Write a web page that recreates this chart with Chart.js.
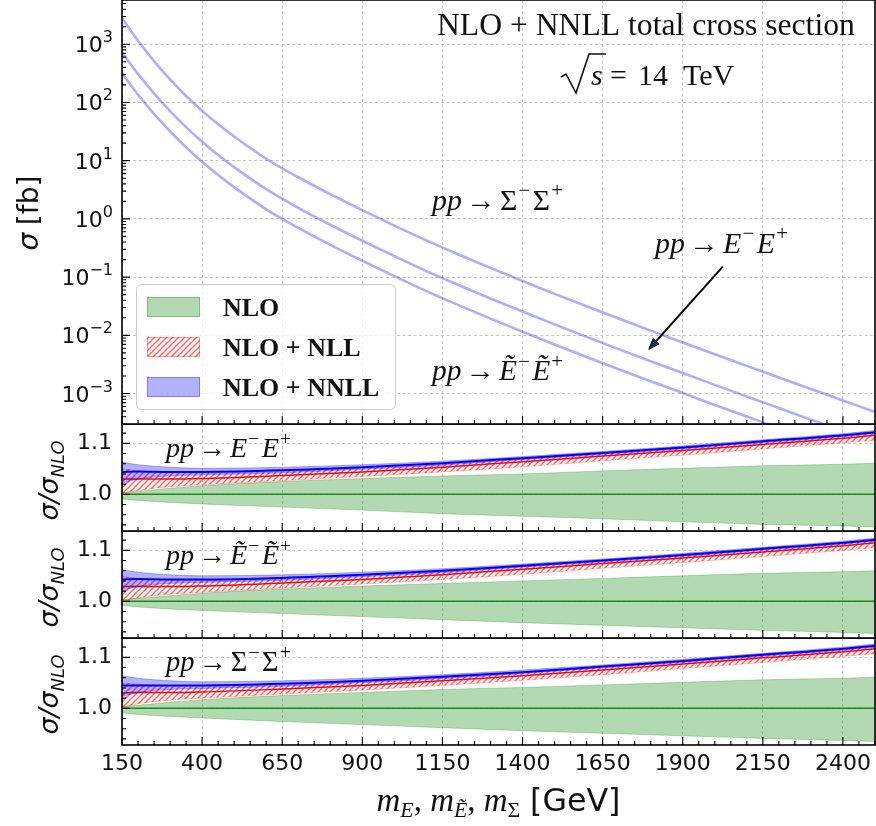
<!DOCTYPE html>
<html>
<head>
<meta charset="utf-8">
<script src="https://cdn.jsdelivr.net/npm/chart.js@4.4.1/dist/chart.umd.min.js"></script>
<style>
  html, body { margin: 0; padding: 0; background: #fff; }
  #fig { position: relative; width: 876px; height: 826px; overflow: hidden; }
  #fig canvas { position: absolute; left: 0; }
</style>
</head>
<body>
<div id="fig">
  <canvas id="main" width="876" height="425" style="top:0px"></canvas>
  <canvas id="rE" width="876" height="108" style="top:424px"></canvas>
  <canvas id="rEt" width="876" height="108" style="top:531px"></canvas>
  <canvas id="rS" width="876" height="188" style="top:638px"></canvas>
</div>
<script>
// ---- data ----
const massMain = [150, 200, 250, 300, 350, 400, 450, 500, 600, 700, 800, 900, 1000, 1100, 1200, 1300, 1400, 1500, 1600, 1700, 1800, 1900, 2000, 2100, 2200, 2300, 2400, 2500];
// NLO+NNLL total cross sections [fb]
const xsecSigma = [2818, 1148, 513, 248, 129, 71.6, 42.2, 26.0, 10.8, 5.19, 2.66, 1.41, 0.767, 0.427, 0.245, 0.144, 0.0857, 0.0516, 0.0315, 0.0194, 0.01205, 0.00753, 0.00473, 0.00299, 0.00189, 0.00120, 0.000760, 0.000484];
const xsecE = [724, 309, 143, 70.8, 37.6, 21.1, 12.5, 7.76, 3.24, 1.55, 0.794, 0.422, 0.229, 0.127, 0.0733, 0.0430, 0.0256, 0.0154, 0.00940, 0.00579, 0.00360, 0.00225, 0.00141, 0.000891, 0.000564, 0.000357, 0.000227, 0.000145];
const xsecEt = [316, 136, 63.8, 32.0, 17.0, 9.55, 5.66, 3.51, 1.46, 0.700, 0.359, 0.191, 0.104, 0.0575, 0.0331, 0.0194, 0.01156, 0.00697, 0.00425, 0.00262, 0.00163, 0.00102, 0.000638, 0.000403, 0.000255, 0.000161, 0.000103, 0.0000653];

// ratio sigma / sigma_NLO
const massRatio = [150, 200, 300, 400, 650, 900, 1150, 1400, 1650, 1900, 2150, 2400, 2500];
const nloCentral = [1, 1, 1, 1, 1, 1, 1, 1, 1, 1, 1, 1, 1];

const nloLoE   = [0.991, 0.988, 0.984, 0.981, 0.975, 0.969, 0.962, 0.957, 0.952, 0.946, 0.941, 0.938, 0.936];
const nloHiE   = [1.003, 1.006, 1.012, 1.017, 1.025, 1.031, 1.036, 1.040, 1.046, 1.051, 1.056, 1.059, 1.061];
const nllE     = [1.030, 1.030, 1.030, 1.031, 1.037, 1.044, 1.053, 1.064, 1.075, 1.086, 1.098, 1.110, 1.116];
const nllLoE   = [1.002, 1.008, 1.015, 1.019, 1.027, 1.035, 1.044, 1.054, 1.066, 1.077, 1.089, 1.101, 1.106];
const nllHiE   = [1.050, 1.046, 1.043, 1.042, 1.045, 1.051, 1.059, 1.069, 1.080, 1.091, 1.103, 1.115, 1.121];
const nnllE    = [1.044, 1.045, 1.044, 1.044, 1.047, 1.053, 1.061, 1.071, 1.081, 1.092, 1.104, 1.116, 1.122];
const nnllLoE  = [1.022, 1.030, 1.036, 1.038, 1.042, 1.049, 1.057, 1.068, 1.078, 1.089, 1.101, 1.113, 1.119];
const nnllHiE  = [1.063, 1.058, 1.053, 1.051, 1.053, 1.058, 1.065, 1.074, 1.084, 1.095, 1.107, 1.119, 1.125];

const nloLoEt  = [0.992, 0.989, 0.985, 0.982, 0.976, 0.970, 0.964, 0.958, 0.953, 0.948, 0.943, 0.939, 0.937];
const nloHiEt  = [1.003, 1.006, 1.011, 1.016, 1.024, 1.030, 1.035, 1.040, 1.045, 1.050, 1.055, 1.058, 1.060];
const nllEt    = [1.029, 1.029, 1.029, 1.030, 1.036, 1.043, 1.052, 1.063, 1.074, 1.085, 1.097, 1.109, 1.115];
const nllLoEt  = [1.001, 1.007, 1.014, 1.018, 1.026, 1.034, 1.043, 1.053, 1.065, 1.076, 1.088, 1.100, 1.105];
const nllHiEt  = [1.049, 1.045, 1.042, 1.041, 1.044, 1.050, 1.058, 1.068, 1.079, 1.090, 1.102, 1.114, 1.120];
const nnllEt   = [1.043, 1.044, 1.043, 1.043, 1.046, 1.052, 1.060, 1.070, 1.080, 1.091, 1.103, 1.115, 1.121];
const nnllLoEt = [1.021, 1.029, 1.035, 1.037, 1.041, 1.048, 1.056, 1.067, 1.077, 1.088, 1.100, 1.112, 1.118];
const nnllHiEt = [1.062, 1.057, 1.052, 1.050, 1.052, 1.057, 1.064, 1.073, 1.083, 1.094, 1.106, 1.118, 1.124];

const nloLoS   = [0.991, 0.988, 0.984, 0.981, 0.974, 0.968, 0.962, 0.956, 0.951, 0.946, 0.941, 0.937, 0.935];
const nloHiS   = [1.003, 1.006, 1.012, 1.017, 1.025, 1.031, 1.037, 1.041, 1.046, 1.051, 1.056, 1.059, 1.061];
const nllS     = [1.030, 1.031, 1.031, 1.032, 1.038, 1.045, 1.054, 1.064, 1.075, 1.087, 1.099, 1.111, 1.117];
const nllLoS   = [1.002, 1.009, 1.016, 1.020, 1.028, 1.036, 1.045, 1.055, 1.066, 1.078, 1.090, 1.102, 1.107];
const nllHiS   = [1.050, 1.047, 1.044, 1.043, 1.046, 1.052, 1.060, 1.070, 1.081, 1.092, 1.104, 1.116, 1.122];
const nnllS    = [1.045, 1.045, 1.045, 1.045, 1.048, 1.054, 1.062, 1.071, 1.082, 1.093, 1.105, 1.117, 1.123];
const nnllLoS  = [1.023, 1.031, 1.037, 1.039, 1.043, 1.050, 1.058, 1.068, 1.079, 1.090, 1.102, 1.114, 1.120];
const nnllHiS  = [1.064, 1.059, 1.054, 1.052, 1.054, 1.059, 1.066, 1.075, 1.085, 1.096, 1.108, 1.120, 1.126];

// ticks
const xTicks = [150, 400, 650, 900, 1150, 1400, 1650, 1900, 2150, 2400];
const mainYTicks = [1e-3, 1e-2, 1e-1, 1, 10, 100, 1000];
const ratioTicks = [1.0, 1.1];
const legendLabels = ['NLO', 'NLO + NLL', 'NLO + NNLL'];

// ---- helpers ----
const SERIF = '"Liberation Serif", "Times New Roman", "DejaVu Serif", serif';
const SANS = '"DejaVu Sans", "Liberation Sans", sans-serif';

function run(t, sz, ff, st, dy, gap) {
  return { t, sz, ff: ff || SERIF, st: st || '', dy: dy || 0, gap: gap || 0 };
}
function fontOf(r, k) {
  return (r.st ? r.st + ' ' : '') + (r.sz * k).toFixed(2) + 'px ' + r.ff;
}
function runsWidth(ctx, runs, k) {
  let w = 0;
  for (const r of runs) { ctx.font = fontOf(r, k); w += ctx.measureText(r.t).width + r.gap * k; }
  return w;
}
function drawRuns(ctx, runs, x, y, align, fitW) {
  const k = fitW ? fitW / runsWidth(ctx, runs, 1) : 1;
  const w = runsWidth(ctx, runs, k);
  let cx = align === 'center' ? x - w / 2 : align === 'right' ? x - w : x;
  ctx.textAlign = 'left';
  ctx.textBaseline = 'alphabetic';
  for (const r of runs) {
    ctx.font = fontOf(r, k);
    ctx.fillText(r.t, cx, y + r.dy * k);
    cx += ctx.measureText(r.t).width + r.gap * k;
  }
}
function procRuns(sz, P, upright) {
  const st = upright ? '' : 'italic';
  return [
    run('pp', sz, SERIF, 'italic', 0, sz * 0.14),
    run('→', sz, SERIF, '', 0, sz * 0.14),
    run(P, sz, SERIF, st, 0, sz * 0.04),
    run('−', sz * 0.7, SERIF, '', -sz * 0.42, sz * 0.08),
    run(P, sz, SERIF, st, 0, sz * 0.04),
    run('+', sz * 0.7, SERIF, '', -sz * 0.42)
  ];
}

function hatchPattern() {
  const c = document.createElement('canvas');
  c.width = 6; c.height = 6;
  const g = c.getContext('2d');
  g.strokeStyle = 'rgba(255,0,0,0.6)';
  g.lineWidth = 1.5;
  g.beginPath();
  g.moveTo(-1, 7); g.lineTo(7, -1);
  g.moveTo(-4, 4); g.lineTo(4, -4);
  g.moveTo(2, 10); g.lineTo(10, 2);
  g.stroke();
  return g.createPattern(c, 'repeat');
}
const HATCH = hatchPattern();

const gridOpts = { color: '#b8b8b8', lineWidth: 0.8, drawTicks: false };
const borderOpts = { display: false, dash: [3, 2.5] };

const xMinor = [];
for (let m = 150; m <= 2500; m += 50) xMinor.push(m);
const mainYMinor = [];
for (let e = -4; e <= 3; e++) for (let d = 2; d <= 9; d++) {
  const v = d * Math.pow(10, e);
  if (v > 3.05e-4 && v < 5750) mainYMinor.push(v);
}
const ratioMinor = [0.94, 0.96, 0.98, 1.02, 1.04, 1.06, 1.08, 1.12];

// frame, inward ticks and extra text
const framePlugin = {
  id: 'frame',
  afterDatasetsDraw(chart, args, o) {
    const { ctx, chartArea: a } = chart;
    const xs = chart.scales.x, ys = chart.scales.y;
    ctx.save();
    ctx.strokeStyle = '#000';
    ctx.lineWidth = 1.1;
    ctx.beginPath();
    for (const m of xMinor) {
      const px = xs.getPixelForValue(m);
      const len = xTicks.includes(m) ? 8 : 4;
      ctx.moveTo(px, a.bottom); ctx.lineTo(px, a.bottom - len);
    }
    for (const v of o.yMinor) {
      const py = ys.getPixelForValue(v);
      ctx.moveTo(a.left, py); ctx.lineTo(a.left + 4, py);
    }
    for (const v of o.yMajor) {
      const py = ys.getPixelForValue(v);
      ctx.moveTo(a.left, py); ctx.lineTo(a.left + 8, py);
    }
    ctx.stroke();
    ctx.lineWidth = 1.6;
    ctx.strokeRect(a.left, a.top, a.right - a.left, a.bottom - a.top);
    ctx.restore();
  },
  afterDraw(chart, args, o) {
    if (o.extra) o.extra(chart);
  }
};

function xScale(bottom) {
  return {
    type: 'linear', min: 150, max: 2500,
    afterBuildTicks: s => { s.ticks = xTicks.map(v => ({ value: v })); },
    afterFit: s => { s.height = bottom ? 81 : 0; s.paddingLeft = 0; s.paddingRight = 0; },
    ticks: {
      display: bottom, autoSkip: false, maxRotation: 0, padding: 6,
      color: '#111', font: { family: SANS, size: 22 },
      callback: v => String(v)
    },
    grid: gridOpts, border: borderOpts
  };
}
function fixY(s) { s.width = 122; s.paddingTop = 0; s.paddingBottom = 0; }

function line(data, mass, color, width, extra) {
  return Object.assign({
    data: mass.map((m, i) => ({ x: m, y: data[i] })),
    borderColor: color, borderWidth: width,
    pointRadius: 0, fill: false, cubicInterpolationMode: 'monotone'
  }, extra || {});
}

// ---- main panel ----
function drawMainText(chart) {
  const { ctx } = chart;
  const xs = chart.scales.x, ys = chart.scales.y;
  ctx.save();
  ctx.fillStyle = '#111';
  for (const v of mainYTicks) {
    const py = ys.getPixelForValue(v);
    const e = Math.round(Math.log10(v));
    drawRuns(ctx, [run('10', 22, SANS), run(String(e).replace('-', '−'), 16, SANS, '', -10)], 113, py + 8, 'right');
  }
  ctx.save();
  ctx.translate(38, 213);
  ctx.rotate(-Math.PI / 2);
  drawRuns(ctx, [run('σ', 26, SANS, 'italic', 0, 7), run('[fb]', 26, SANS)], 0, 0, 'center', 75);
  ctx.restore();

  drawRuns(ctx, [run('NLO + NNLL total cross section', 29, SERIF)], 437, 35, 'left', 418);
  // sqrt(s) = 14 TeV
  ctx.strokeStyle = '#111';
  ctx.lineWidth = 1.6;
  ctx.beginPath();
  ctx.moveTo(561, 77); ctx.lineTo(566, 74); ctx.lineTo(576, 93); ctx.lineTo(589, 54); ctx.lineTo(606, 54);
  ctx.stroke();
  drawRuns(ctx, [run('s', 30, SERIF, 'italic')], 591, 85, 'left');
  drawRuns(ctx, [run('=', 30, SERIF)], 610, 85, 'left');
  drawRuns(ctx, [run('14', 30, SERIF)], 638, 85, 'left');
  drawRuns(ctx, [run('TeV', 30, SERIF)], 683, 85, 'left');

  drawRuns(ctx, procRuns(22, 'Σ', true), 432, 210, 'left', 131);
  drawRuns(ctx, procRuns(22, 'E'), 655, 253, 'left', 133);
  drawRuns(ctx, procRuns(22, 'Ẽ'), 432, 380, 'left', 131);

  // arrow towards the E-E+ curve
  const x0 = xs.getPixelForValue(2025), y0 = ys.getPixelForValue(0.151);
  const x1 = xs.getPixelForValue(1794), y1 = ys.getPixelForValue(0.00575);
  const ang = Math.atan2(y1 - y0, x1 - x0);
  ctx.strokeStyle = '#000';
  ctx.lineWidth = 2;
  ctx.beginPath();
  ctx.moveTo(x0, y0);
  ctx.lineTo(x1 - 8 * Math.cos(ang), y1 - 8 * Math.sin(ang));
  ctx.stroke();
  ctx.fillStyle = '#10306a';
  ctx.beginPath();
  ctx.moveTo(x1, y1);
  ctx.lineTo(x1 - 11 * Math.cos(ang) + 4 * Math.sin(ang), y1 - 11 * Math.sin(ang) - 4 * Math.cos(ang));
  ctx.lineTo(x1 - 11 * Math.cos(ang) - 4 * Math.sin(ang), y1 - 11 * Math.sin(ang) + 4 * Math.cos(ang));
  ctx.closePath();
  ctx.fill();
  ctx.lineWidth = 1;
  ctx.stroke();

  // legend
  ctx.fillStyle = 'rgba(255,255,255,0.8)';
  ctx.strokeStyle = '#cccccc';
  ctx.lineWidth = 1;
  ctx.beginPath();
  ctx.roundRect(136.5, 284.5, 259, 125, 5);
  ctx.fill(); ctx.stroke();
  const patches = [
    ['rgba(0,128,0,0.3)', 'rgba(0,128,0,0.3)'],
    [HATCH, 'rgba(255,0,0,0.35)'],
    ['rgba(0,0,255,0.3)', 'rgba(0,0,255,0.3)']
  ];
  legendLabels.forEach((lab, i) => {
    const top = 297 + i * 40;
    ctx.fillStyle = patches[i][0];
    ctx.fillRect(147, top, 53, 20);
    ctx.strokeStyle = patches[i][1];
    ctx.strokeRect(147.5, top + 0.5, 52, 19);
    ctx.fillStyle = '#111';
    drawRuns(ctx, [run(lab, 26, SERIF, 'bold')], 223, top + 19, 'left');
  });
  ctx.restore();
}

new Chart(document.getElementById('main'), {
  type: 'line',
  data: {
    datasets: [
      line(xsecSigma, massMain, 'rgba(0,0,255,0.32)', 2.6),
      line(xsecE, massMain, 'rgba(0,0,255,0.32)', 2.6),
      line(xsecEt, massMain, 'rgba(0,0,255,0.32)', 2.6)
    ]
  },
  options: {
    responsive: false, maintainAspectRatio: false, animation: false, events: [],
    layout: { padding: { left: 0, right: 1, top: 0, bottom: 1 } },
    scales: {
      x: xScale(false),
      y: {
        type: 'logarithmic', min: 3.05e-4, max: 5750,
        afterBuildTicks: s => { s.ticks = mainYTicks.map(v => ({ value: v })); },
        afterFit: fixY,
        ticks: { display: false },
        grid: gridOpts, border: borderOpts
      }
    },
    plugins: {
      legend: { display: false }, tooltip: { enabled: false },
      frame: { yMinor: mainYMinor, yMajor: mainYTicks, extra: drawMainText }
    }
  },
  plugins: [framePlugin]
});

// ---- ratio panels ----
function ratioChart(id, b, P, upright, bottom) {
  const extra = chart => {
    const { ctx, chartArea: a } = chart;
    ctx.save();
    ctx.fillStyle = '#111';
    drawRuns(ctx, procRuns(24, P, upright), 166, a.top + 33, 'left', 125);
    ctx.translate(58, (a.top + a.bottom) / 2 + 3);
    ctx.rotate(-Math.PI / 2);
    drawRuns(ctx, [run('σ/σ', 24, SANS, 'italic'), run('NLO', 16, SANS, 'italic', 5)], 0, 0, 'center', 80);
    ctx.restore();
    if (bottom) {
      // x axis title, below the tick labels
      ctx.save();
      ctx.fillStyle = '#111';
      drawRuns(ctx, [
        run('m', 27, SERIF, 'italic'), run('E', 18, SERIF, 'italic', 5),
        run(', ', 27, SERIF), run('m', 27, SERIF, 'italic'), run('Ẽ', 18, SERIF, 'italic', 5),
        run(', ', 27, SERIF), run('m', 27, SERIF, 'italic'), run('Σ', 18, SERIF, '', 5, 8),
        run('[GeV]', 26, SANS)
      ], (a.left + a.right) / 2, a.bottom + 66, 'center', 244);
      ctx.restore();
    }
  };
  new Chart(document.getElementById(id), {
    type: 'line',
    data: {
      datasets: [
        line(b.nnll, massRatio, 'blue', 2, { order: 1 }),
        line(b.nnllHi, massRatio, 'rgba(0,0,255,0.3)', 1, { order: 2, fill: '+1', backgroundColor: 'rgba(0,0,255,0.3)' }),
        line(b.nnllLo, massRatio, 'rgba(0,0,255,0.3)', 1, { order: 3 }),
        line(b.nll, massRatio, 'red', 1.5, { order: 4 }),
        line(b.nllHi, massRatio, 'rgba(255,0,0,0.25)', 1, { order: 5, fill: '+1', backgroundColor: HATCH }),
        line(b.nllLo, massRatio, 'rgba(255,0,0,0.25)', 1, { order: 6 }),
        line(nloCentral, massRatio, 'rgba(0,128,0,0.85)', 1.5, { order: 7 }),
        line(b.nloHi, massRatio, 'rgba(0,128,0,0.25)', 1, { order: 8, fill: '+1', backgroundColor: 'rgba(0,128,0,0.3)' }),
        line(b.nloLo, massRatio, 'rgba(0,128,0,0.25)', 1, { order: 9 })
      ]
    },
    options: {
      responsive: false, maintainAspectRatio: false, animation: false, events: [],
      layout: { padding: { left: 0, right: 1, top: 0, bottom: bottom ? 0 : 1 } },
      scales: {
        x: xScale(bottom),
        y: {
          type: 'linear', min: 0.928, max: 1.138,
          afterBuildTicks: s => { s.ticks = ratioTicks.map(v => ({ value: v })); },
          afterFit: fixY,
          ticks: { padding: 10, color: '#111', font: { family: SANS, size: 22 }, callback: v => v.toFixed(1) },
          grid: gridOpts, border: borderOpts
        }
      },
      plugins: {
        legend: { display: false }, tooltip: { enabled: false },
        frame: { yMinor: ratioMinor, yMajor: ratioTicks, extra }
      }
    },
    plugins: [framePlugin]
  });
}

ratioChart('rE', { nloLo: nloLoE, nloHi: nloHiE, nll: nllE, nllLo: nllLoE, nllHi: nllHiE, nnll: nnllE, nnllLo: nnllLoE, nnllHi: nnllHiE }, 'E', false, false);
ratioChart('rEt', { nloLo: nloLoEt, nloHi: nloHiEt, nll: nllEt, nllLo: nllLoEt, nllHi: nllHiEt, nnll: nnllEt, nnllLo: nnllLoEt, nnllHi: nnllHiEt }, 'Ẽ', false, false);
ratioChart('rS', { nloLo: nloLoS, nloHi: nloHiS, nll: nllS, nllLo: nllLoS, nllHi: nllHiS, nnll: nnllS, nnllLo: nnllLoS, nnllHi: nnllHiS }, 'Σ', true, true);
</script>
</body>
</html>
